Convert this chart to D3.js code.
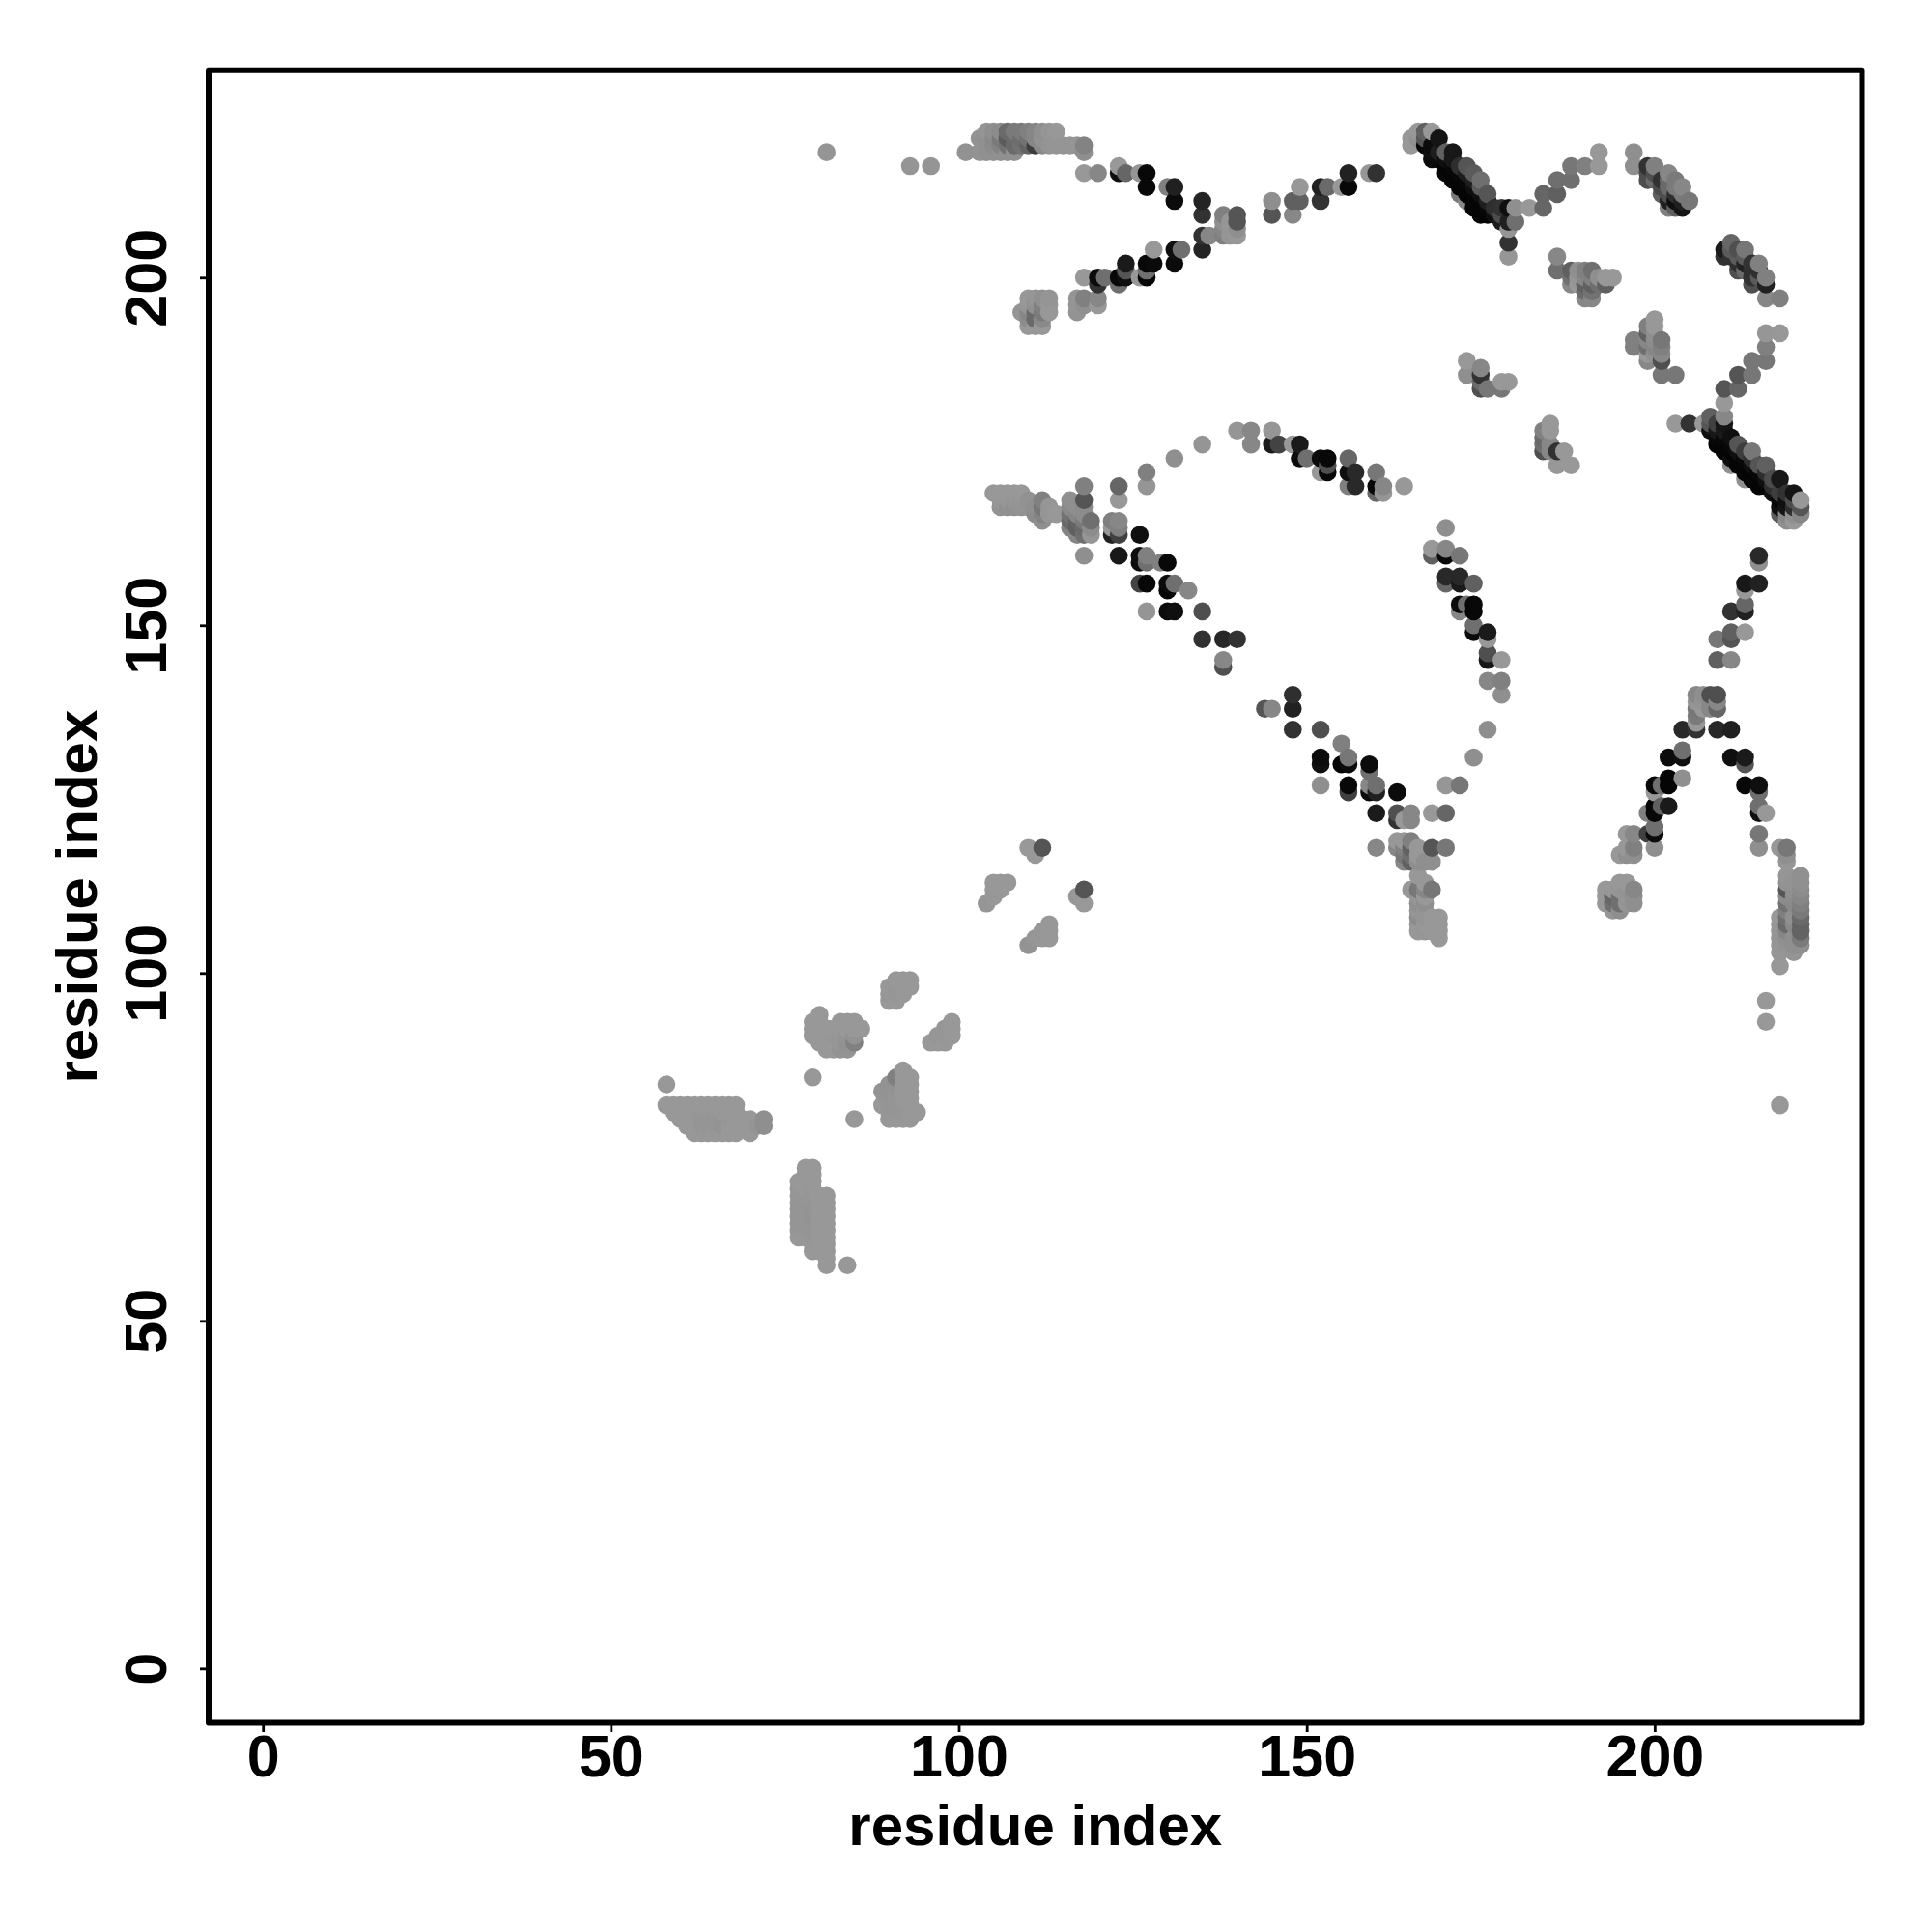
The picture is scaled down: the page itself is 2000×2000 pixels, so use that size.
<!DOCTYPE html>
<html><head><meta charset="utf-8">
<script src="https://cdn.jsdelivr.net/npm/d3@7"></script>
<style>html,body{margin:0;padding:0;background:#fff}svg{display:block}</style>
</head><body><div id="chart"></div>
<script>
// Each contact: [residue i, residue j, score 0-100]
const lowerContacts = [
[58,84,0],[58,81,0],[59,81,0],[60,81,0],[61,81,0],[62,81,0],[63,81,0],[64,81,0],[65,81,0],[66,81,0],[67,81,0],[68,81,0],
[59,80,0],[60,80,0],[61,80,0],[62,80,0],[63,80,1],[64,80,1],[65,80,1],[66,80,0],[67,80,0],[68,80,0],
[60,79,0],[61,79,0],[62,79,0],[63,79,2],[64,79,2],[65,79,2],[66,79,3],[67,79,1],[68,79,0],[69,79,0],[70,79,0],[72,79,6],
[61,78,0],[62,78,0],[63,78,2],[64,78,2],[65,78,1],[66,78,3],[67,78,0],[68,78,0],[69,78,0],[70,78,0],[71,78,2],[72,78,6],
[62,77,0],[63,77,0],[64,77,0],[65,77,0],[66,77,0],[67,77,0],[68,77,0],[70,77,0],
[78,72,0],[79,72,0],[78,71,0],[79,71,0],[77,70,0],[78,70,0],[79,70,0],[77,69,1],[78,69,0],[79,69,1],
[77,68,1],[78,68,1],[79,68,1],[80,68,0],[81,68,0],[77,67,2],[78,67,2],[79,67,2],[80,67,0],[81,67,0],
[77,66,2],[78,66,2],[79,66,3],[80,66,0],[81,66,0],[77,65,2],[78,65,2],[79,65,3],[80,65,0],[81,65,0],
[77,64,2],[78,64,2],[79,64,2],[80,64,0],[81,64,0],[77,63,1],[78,63,1],[79,63,2],[80,63,0],[81,63,0],
[77,62,0],[78,62,0],[79,62,1],[80,62,0],[81,62,0],[79,61,0],[80,61,0],[81,61,0],[79,60,0],[80,60,0],[81,60,0],[81,59,0],[81,58,0],[84,58,0],
[79,85,0],[85,79,0],
[80,94,0],[79,93,0],[80,93,0],[83,93,0],[84,93,0],[85,93,0],[79,92,0],[80,92,0],[81,92,0],[82,92,0],[83,92,0],[84,92,0],[85,92,0],[86,92,0],
[79,91,0],[80,91,0],[81,91,0],[82,91,1],[83,91,1],[84,91,3],[85,91,4],[80,90,0],[81,90,0],[82,90,0],[83,90,1],[84,90,4],[85,90,16],[81,89,0],[82,89,0],[83,89,3],[84,89,3],
[91,99,0],[92,99,0],[93,99,0],[90,98,0],[91,98,1],[92,98,0],[93,98,0],[90,97,1],[91,97,1],[92,97,0],[90,96,0],[91,96,0],
[99,93,0],[98,92,1],[99,92,0],[97,91,1],[98,91,1],[99,91,0],[96,90,0],[97,90,0],[98,90,0],
[92,86,0],[91,85,16],[92,85,0],[93,85,0],[90,84,3],[91,84,4],[92,84,0],[93,84,0],[89,83,3],[90,83,3],[91,83,2],[92,83,0],[93,83,0],
[90,82,2],[91,82,1],[92,82,0],[93,82,0],[89,81,0],[90,81,2],[91,81,2],[92,81,1],[93,81,0],[94,80,0],[90,80,1],[91,80,1],[92,80,1],[93,80,0],[90,79,0],[91,79,0],[92,79,0],[93,79,0],
[110,118,0],[111,117,0],[112,118,44],[105,113,0],[106,113,0],[107,113,0],[105,112,1],[106,112,0],[105,111,0],[104,110,2],
[113,107,0],[112,106,1],[113,106,0],[111,105,1],[112,105,0],[113,105,0],[110,104,3],[117,111,0],[118,112,44],[118,110,0]
];
const arcLowerContacts = [
[105,169,0],[106,169,0],[107,169,0],[108,169,0],[109,169,0],[106,168,1],[107,168,1],[108,168,2],[109,168,2],[110,168,4],[112,168,16],
[106,167,3],[107,167,5],[108,167,5],[109,167,3],[110,167,3],[111,167,6],[112,167,22],[113,167,1],[111,166,8],[112,166,14],[113,166,2],[114,166,0],[112,165,6],
[116,168,6],[116,167,10],[116,166,25],[116,165,30],[116,164,14],[117,167,6],[117,166,12],[117,165,35],[117,164,37],[117,163,12],[118,170,16],[118,168,44],[118,167,8],[118,166,8],[118,165,20],[118,164,30],[118,163,27],[118,160,6],[119,165,27],[119,164,8],[119,163,1],
[122,165,16],[122,164,0],[122,163,78],[123,170,33],[123,168,0],[123,165,11],[123,164,16],[123,163,58],[123,160,84],
[126,163,90],[126,160,90],[126,159,93],[126,156,56],[127,172,16],[127,170,2],[127,160,16],[127,159,27],[127,156,95],[127,152,2],[129,159,16],[130,159,95],[130,156,93],[130,155,97],[130,152,92],[131,156,27],[131,152,90],[133,155,11],[135,152,48],[135,148,67],[138,148,74],[138,145,11],[138,144,48],[140,148,67],
[131,174,6],[135,176,2],[140,178,2],[142,178,11],[142,176,11],[145,178,1],[145,176,83],[146,176,56],[148,176,0],[149,176,83],[149,174,93],[150,174,27],[152,174,93],[152,172,0],[153,174,95],[153,173,48],[153,172,95],[156,174,33],[156,172,90],[156,170,16],[157,172,73],[157,170,73],[160,172,22],[160,170,95],[160,169,33],[161,170,11],[161,169,2],[164,170,0],
[144,138,44],[145,138,11],[148,140,69],[148,138,78],[148,135,67],[152,135,48],[152,131,93],[152,130,90],[152,127,6],[155,133,16],[155,130,97],[156,131,22],[156,130,93],[156,127,95],[156,126,58],[159,130,93],[159,129,27],[159,127,11],[159,126,93],[160,127,27],[160,126,79],[160,123,83],[160,118,11],[163,126,93],[163,123,48],[163,122,67],[164,122,0],[165,123,11],[165,122,11],[168,123,0],[170,123,33],[170,127,1],[172,127,22],[174,131,6],[176,135,6],
[163,119,0],[164,119,0],[165,119,16],[163,118,11],[164,118,16],[165,118,37],[166,118,0],[168,118,44],[170,118,22],[164,117,22],[165,117,27],[166,117,0],[164,116,11],[165,116,37],[166,116,6],[167,116,6],[168,116,6],
[166,114,0],[167,113,0],[165,112,0],[166,112,22],[167,112,11],[168,112,22],[166,111,2],[167,111,0],[166,110,6],[167,110,6],[166,109,2],[167,109,2],[166,108,8],[167,108,2],[168,108,0],[169,108,0],[166,107,0],[167,107,0],[168,107,0],[169,107,0],[166,106,0],[167,106,1],[168,106,0],[169,106,0],[169,105,0],
[170,164,6],[168,161,0],[170,161,11],[168,160,37],[170,160,93],[172,160,22],[170,157,73],[170,156,33],[172,157,74],[172,156,83],[174,156,37],[172,153,93],[172,152,11],[173,153,27],[174,153,95],[174,152,95],[174,150,27],[174,149,93],[176,149,83],[176,148,0],[176,146,48],[176,145,84],[178,145,0],[176,142,11],[178,142,16],[178,140,6]
];
const upperLeftContacts = [
[81,218,2],[93,216,2],[96,216,2],
[104,221,2],[105,221,6],[106,221,8],[107,221,30],[108,221,20],[109,221,20],[110,221,16],[111,221,12],[112,221,6],[113,221,2],[114,221,0],
[103,220,3],[104,220,5],[105,220,10],[106,220,20],[107,220,40],[108,220,30],[109,220,28],[110,220,25],[111,220,12],[112,220,4],
[105,219,8],[106,219,14],[107,219,25],[108,219,30],[109,219,25],[110,219,35],[111,219,60],[112,219,10],[113,219,3],[114,219,2],[115,219,2],[116,219,2],[117,219,2],[118,219,14],
[101,218,4],[103,218,3],[104,218,5],[105,218,5],[106,218,5],[107,218,5],[108,218,5],[118,218,6],
[118,215,0],[120,215,11],[123,216,0],[123,215,90],[124,215,33],[126,215,2],[127,215,95],[127,213,95],[130,213,16],[131,213,79],[131,211,93],[135,211,76],[135,209,67],
[138,209,16],[138,208,6],[138,207,12],[139,208,2],[139,207,2],[140,209,44],[140,208,44],[140,207,6],[138,206,16],[139,206,2],[140,206,0],
[135,206,67],[136,206,11],[135,204,76],[132,204,27],[131,204,90],[128,204,0],[131,202,93],[128,202,93],[127,202,95],[124,202,83],
[118,200,0],[120,200,93],[121,200,27],[120,199,67],[123,200,95],[124,201,44],[124,200,90],[123,199,27],[126,200,0],[127,201,27],[127,200,97],
[110,197,0],[111,197,2],[112,197,5],[113,197,2],[110,196,2],[111,196,5],[112,196,16],[113,196,0],[109,195,2],[110,195,12],[111,195,30],[112,195,20],[113,195,0],[110,194,8],[111,194,30],[112,194,10],[110,193,0],[111,193,0],[112,193,0],
[117,197,2],[118,197,16],[120,197,11],[117,196,2],[118,196,5],[120,196,0],[117,195,3],
[145,211,6],[145,209,44],[148,211,37],[148,209,11],[149,211,37],[149,213,0],[152,211,67],[152,213,78],[153,213,30],[155,213,0],[156,213,95],[156,215,78],[159,215,1],[160,215,67]
];
const upperBandContacts = [
[166,221,0],[165,220,0],[165,219,0],[168,221,0],[167,221,37],[167,220,44],[169,220,86],[167,219,95],[168,219,93],[166,220,5],
[168,218,90],[169,218,80],[170,218,37],[171,218,84],[168,217,93],[169,217,93],[170,217,90],[171,217,85],
[170,216,97],[171,216,95],[172,216,70],[173,216,44],[170,215,95],[171,215,97],[172,215,95],[173,215,80],[174,215,40],
[171,214,97],[172,214,97],[173,214,95],[174,214,80],[175,214,27],[172,213,97],[173,213,97],[174,213,90],[175,213,40],
[172,212,20],[173,212,97],[174,212,97],[175,212,90],[176,212,44],[173,211,10],[174,211,97],[175,211,97],[176,211,80],
[174,210,97],[175,210,97],[176,210,95],[177,210,70],[175,209,97],[176,209,97],[177,209,90],[178,209,50],
[178,210,67],[179,210,90],[180,210,6],[182,210,0],[184,210,33],[184,212,33],[186,212,37],[186,214,27],[188,214,27],[188,216,22],[190,216,16],[192,216,0],[192,218,0],
[178,208,83],[179,208,79],[180,208,27],[179,207,2],[179,205,67],[179,203,1],
[197,218,6],[197,216,6],
[199,216,67],[199,215,50],[199,214,48],[200,216,16],[200,215,48],[200,214,30],[201,214,67],[201,213,50],[201,212,37],[202,215,11],[202,214,30],[202,213,30],[202,212,48],[202,211,79],[202,210,16],
[203,214,20],[203,213,20],[203,212,69],[203,211,90],[203,210,37],[204,213,11],[204,212,20],[204,211,79],[204,210,86],[205,211,22],
[211,205,33],[210,204,83],[210,203,67],[211,204,40],[211,203,67],[212,204,48],[213,204,22],[212,203,40],[212,202,69],[212,201,48],[213,203,40],[213,202,78],[213,201,30],[214,202,67],[214,201,69],[215,202,16],[214,200,67],[214,199,48],[215,201,69],[215,200,40],[216,200,16],[216,199,78],[216,197,11],[218,197,16],
[186,203,11],[186,201,27],[188,201,37],[189,201,6],[190,201,16],[191,201,27],[188,200,25],[189,200,2],[190,200,11],[191,200,16],[188,199,11],[189,199,0],[190,199,37],[191,199,37],[192,199,27],[193,199,37],[192,200,6],[193,200,0],[194,200,0],[190,198,30],[191,198,25],[190,197,11],[191,197,11],
[200,194,0],[199,193,16],[200,193,0],[199,192,37],[200,192,6],[197,191,16],[199,191,11],[200,191,8],[201,191,22],[197,190,16],[199,190,27],[200,190,11],[201,190,16],[199,189,0],[200,189,5],[201,189,11],[199,188,11],[201,188,48],[201,186,22],[203,186,22],
[173,188,0],[173,186,6],[175,187,11],[175,186,67],[175,185,30],[175,184,48],[176,184,22],[178,184,22],[178,185,0],[179,185,0],
[185,179,0],[184,178,16],[185,178,0],[184,177,30],[184,176,27],[185,176,11],[184,175,48],[185,175,11],[186,175,67],[187,175,0],[186,173,0],[188,173,0],
[218,192,0],[216,192,1],[216,190,16],[216,188,22],[214,188,22],[214,186,22],[212,186,44],[212,184,33],[210,184,44],[210,182,0],[210,180,11],[208,180,37],
[203,179,0],[205,179,67],[207,179,0],[208,179,44],[209,179,58],[210,179,86],[208,178,90],[209,178,84],[210,178,83],[209,177,95],[210,177,95],[211,177,90],
[209,176,97],[210,176,97],[211,176,95],[212,176,44],[210,175,97],[211,175,97],[212,175,90],[213,175,60],[214,175,22],[211,174,90],[212,174,97],[213,174,95],[214,174,70],
[211,173,5],[212,173,97],[213,173,97],[214,173,90],[215,173,44],[216,173,37],[213,172,97],[214,172,97],[215,172,95],[216,172,70],
[213,171,5],[214,171,97],[215,171,97],[216,171,90],[217,171,50],[218,171,84],[215,170,97],[216,170,97],[217,170,70],
[217,169,90],[218,169,60],[219,169,67],[220,169,86],[218,168,95],[219,168,90],[220,168,50],[221,168,0],[218,167,90],[219,167,86],[220,167,70],[221,167,44],[218,166,40],[219,166,11],[220,166,6],[221,166,11],[219,165,6],[220,165,0]
];
const lambdaContacts = [
[215,160,73],[215,159,6],[213,156,84],[215,156,78],[213,155,0],[213,153,33],[211,152,67],[213,152,78],[213,149,0],[211,149,37],[211,148,44],[209,148,22],[209,145,37],[211,145,11],
[206,140,11],[207,140,6],[208,140,48],[209,140,48],[206,139,2],[207,139,3],[208,139,11],[209,139,11],[206,138,22],[207,138,0],[208,138,11],[209,138,33],[206,137,20],[206,136,0],[204,135,73],[206,135,67],[209,135,74],[211,135,79],
[204,132,27],[202,131,93],[204,131,90],[211,131,90],[213,131,83],[213,130,44],
[202,128,97],[204,128,6],[202,127,97],[200,127,95],[201,127,27],[200,126,0],[213,127,95],[215,127,90],[215,126,27],[202,124,83],[200,124,95],[201,124,37],[200,123,95],[199,123,16],[215,124,27],[215,123,90],[216,123,0],
[200,121,27],[199,120,58],[200,120,93],[200,118,6],[215,120,22],[215,118,6],
[196,120,0],[197,120,11],[196,118,0],[197,118,16],[195,117,0],[196,117,6],[197,117,6],
[195,113,0],[196,113,0],[193,112,0],[194,112,0],[195,112,2],[196,112,3],[197,112,11],[193,111,0],[194,111,33],[195,111,27],[196,111,2],[197,111,6],[193,110,0],[194,110,27],[195,110,27],[196,110,2],[197,110,6],[194,109,1],[195,109,6],
[218,118,0],[219,118,22],[219,117,6],[219,116,1],[219,114,2],[219,113,4],[219,112,44],[219,111,8],[219,110,25],[219,109,16],[219,108,27],[219,107,30],[219,106,12],[219,105,6],[219,104,3],
[221,114,5],[221,113,5],[221,112,8],[221,111,11],[221,110,16],[221,109,20],[221,108,30],[221,107,35],[221,106,35],[221,105,20],[221,104,6],
[220,113,3],[220,112,5],[220,111,8],[220,110,10],[220,108,5],[220,107,10],[220,105,6],[220,104,6],[220,103,2],
[218,108,0],[218,107,1],[218,106,1],[218,105,2],[218,104,1],[218,103,1],[218,101,0],[216,96,0],[216,93,0],[218,81,0]
];
const xTickValues = [0,50,100,150,200];
const yTickValues = [0,50,100,150,200];
const xLabel = "residue index", yLabel = "residue index";

const contacts = [...lowerContacts,...arcLowerContacts,...upperLeftContacts,...upperBandContacts,...lambdaContacts]
  .sort((a,b)=>d3.ascending(a[0],b[0])||d3.ascending(a[1],b[1]));

const W=2000,H=2000,left=216,right=1927.5,top_=72.7,bottom=1783.5;
const svg=d3.select("#chart").append("svg").attr("width",W).attr("height",H).style("font-family","'Liberation Sans',Arial,sans-serif").style("font-weight","bold");
const x=d3.scaleLinear().domain([-7.8,229.8]).range([left,right]);
const y=d3.scaleLinear().domain([-7.8,229.8]).range([bottom,top_]);
const gray=d3.scaleLinear().domain([0,100]).range([152,0]);

svg.append("g").selectAll("circle").data(contacts).join("circle")
  .attr("cx",d=>x(d[0])).attr("cy",d=>y(d[1])).attr("r",9.3)
  .attr("fill",d=>{const g=Math.round(gray(d[2]));return `rgb(${g},${g},${g})`;});

const gx=svg.append("g").attr("transform",`translate(0,${bottom})`)
  .call(d3.axisBottom(x).tickValues(xTickValues).tickSize(9.5).tickPadding(12).tickFormat(d3.format("d")));
const gy=svg.append("g").attr("transform",`translate(${left},0)`)
  .call(d3.axisLeft(y).tickValues(yTickValues).tickSize(9).tickFormat(d3.format("d")));
gx.select(".domain").remove();gy.select(".domain").remove();
gx.selectAll("line").attr("stroke","#000").attr("stroke-width",2.8);
gy.selectAll("line").attr("stroke","#000").attr("stroke-width",2.8);
gx.selectAll("text").attr("y",null).attr("dy",null).attr("transform",null)
  .attr("y",1839-bottom).attr("font-size",61).attr("fill","#000").attr("text-anchor","middle");
gy.selectAll("text").attr("x",null).attr("dy",null)
  .attr("x",0).attr("y",0).attr("font-size",61).attr("fill","#000").attr("text-anchor","middle")
  .attr("transform",`translate(${172-left},0) rotate(-90)`);
svg.append("rect").attr("x",left).attr("y",top_).attr("width",right-left).attr("height",bottom-top_)
  .attr("fill","none").attr("stroke","#000").attr("stroke-width",6).attr("stroke-linejoin","round");
svg.append("text").attr("x",(left+right)/2).attr("y",1910).attr("text-anchor","middle").attr("font-size",60).text(xLabel);
svg.append("text").attr("transform",`translate(99.5,${(top_+bottom)/2}) rotate(-90)`).attr("text-anchor","middle").attr("font-size",60).text(yLabel);
</script></body></html>
